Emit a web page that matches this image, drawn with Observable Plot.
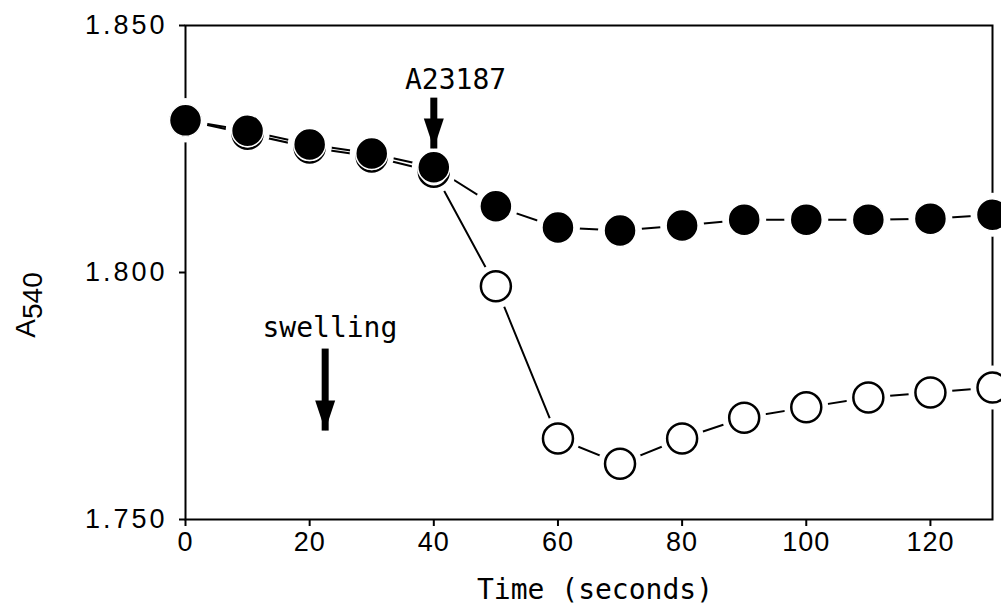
<!DOCTYPE html>
<html>
<head>
<meta charset="utf-8">
<script src="https://cdn.jsdelivr.net/npm/d3@7"></script>
<script src="https://cdn.jsdelivr.net/npm/@observablehq/plot@0.6"></script>
<style>
  html, body { margin: 0; padding: 0; background: white; }
  .chart g[aria-label="y-axis tick label"] text { letter-spacing: 3px; }
  .chart g[aria-label="x-axis tick label"] text { letter-spacing: 1px; }
</style>
</head>
<body>
<div id="chart"></div>
<script>
// Data
const time = [0, 10, 20, 30, 40, 50, 60, 70, 80, 90, 100, 110, 120, 130];
const filledA540 = [1.8308, 1.8287, 1.8259, 1.8241, 1.8213, 1.8134, 1.8091, 1.8085, 1.8095, 1.8107, 1.8107, 1.8107, 1.8109, 1.8117];
const openA540 = [1.8308, 1.8281, 1.8253, 1.8235, 1.8204, 1.7972, 1.7664, 1.7613, 1.7664, 1.7706, 1.7727, 1.7747, 1.7757, 1.7767];
const xTicks = [0, 20, 40, 60, 80, 100, 120];
const yTicks = [1.75, 1.80, 1.85];

// Annotations (arrows: tail -> tip)
const arrowX = [40, 22.5];
const arrowTail = [1.8354, 1.7846];
const arrowTip = [1.8251, 1.7680];
const labelText = ["A23187", "swelling"];
const labelX = [43.5, 12.4];
const labelY = [1.8372, 1.7870];

const filled = time.map((t, i) => ({t, v: filledA540[i]}));
const open = time.map((t, i) => ({t, v: openA540[i]}));
const arrows = arrowX.map((x, i) => ({x, y1: arrowTail[i], y2: arrowTip[i]}));
const labels = labelText.map((s, i) => ({s, x: labelX[i], y: labelY[i]}));

// down-pointing arrow head, tip at the origin
const headSymbol = {
  draw(context) {
    context.moveTo(0, 0);
    context.lineTo(-10, -30);
    context.lineTo(10, -30);
    context.closePath();
  }
};

const mono = "'DejaVu Sans Mono', monospace";
const sans = "'Liberation Sans', Arial, sans-serif";

const chart = Plot.plot({
  width: 1001,
  height: 604,
  marginLeft: 185,
  marginRight: 9,
  marginTop: 25,
  marginBottom: 85,
  className: "chart",
  style: {fontFamily: sans, fontSize: "27px", background: "white", color: "black"},
  x: {domain: [0, 130]},
  y: {domain: [1.75, 1.85]},
  marks: [
    Plot.frame({stroke: "black", strokeWidth: 2}),
    Plot.axisX({ticks: xTicks, tickSize: 7, tickPadding: 5, tickFormat: d => String(d), label: null, strokeWidth: 2, fontSize: 27, fontFamily: sans}),
    Plot.axisY({ticks: yTicks, tickSize: 6, tickPadding: 12, tickFormat: d3.format(".3f"), label: null, strokeWidth: 2, fontSize: 27, fontFamily: sans}),
    Plot.line(open, {x: "t", y: "v", stroke: "black", strokeWidth: 2}),
    Plot.line(filled, {x: "t", y: "v", stroke: "black", strokeWidth: 2}),
    Plot.dot(open, {x: "t", y: "v", r: 22, fill: "white"}),
    Plot.dot(filled, {x: "t", y: "v", r: 22, fill: "white"}),
    Plot.dot(open, {x: "t", y: "v", r: 15, fill: "white", stroke: "black", strokeWidth: 2.5}),
    Plot.dot(filled, {x: "t", y: "v", r: 16, fill: "black", stroke: "white", strokeWidth: 1.5}),
    Plot.link(arrows, {x1: "x", x2: "x", y1: "y1", y2: "y2", stroke: "black", strokeWidth: 7, strokeLinecap: "butt"}),
    Plot.dot(arrows, {x: "x", y: "y2", symbol: headSymbol, fill: "black", stroke: "none"}),
    Plot.text(labels.slice(0, 1), {x: "x", y: "y", text: "s", textAnchor: "middle", lineAnchor: "bottom", fontFamily: mono, fontSize: 28, fill: "black"}),
    Plot.text(labels.slice(1), {x: "x", y: "y", text: "s", textAnchor: "start", lineAnchor: "bottom", fontFamily: mono, fontSize: 28, fill: "black"}),
    Plot.text(["Time (seconds)"], {frameAnchor: "bottom", dx: 6, dy: 79, lineAnchor: "bottom", fontFamily: mono, fontSize: 28, fill: "black"})
  ]
});

// y-axis label with subscript
const svg = d3.select(chart);
const yl = svg.append("text")
  .attr("transform", "translate(35,305) rotate(-90)")
  .attr("text-anchor", "middle")
  .attr("fill", "black")
  .style("font-family", sans)
  .style("font-size", "28px");
yl.append("tspan").text("A");
yl.append("tspan").attr("dy", 7).text("540");

document.getElementById("chart").appendChild(chart);
</script>
</body>
</html>
